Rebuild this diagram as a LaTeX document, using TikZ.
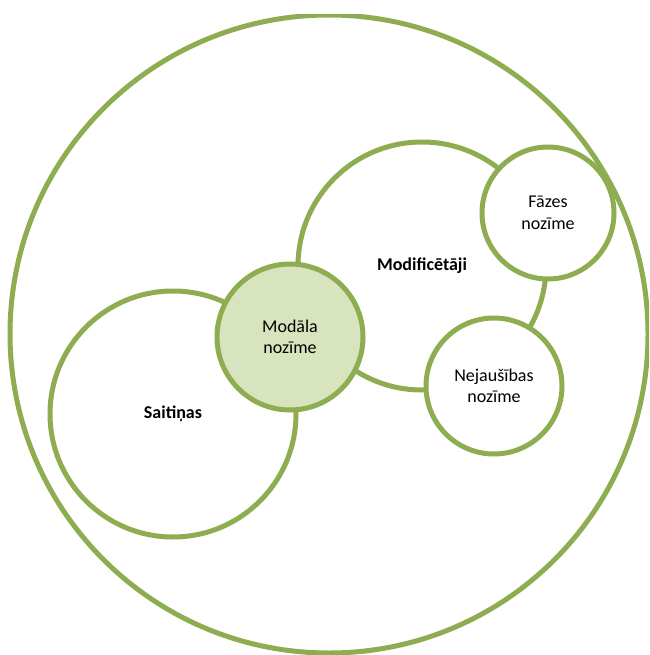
\documentclass[tikz,border=0pt]{standalone}
\usepackage{fontspec}
\setmainfont{Carlito}
\definecolor{olivegreen}{RGB}{142,172,80}
\definecolor{lightolive}{RGB}{215,228,189}

\begin{document}
\begin{tikzpicture}[x=1pt, y=-1pt, line width=5pt,
  ring/.style={circle, draw=olivegreen, fill=white, inner sep=0pt,
    align=center, font=\fontsize{18}{21.5}\selectfont},
  groupring/.style={ring, font=\fontsize{18}{21.5}\selectfont\bfseries}]
  \useasboundingbox (0,0) rectangle (649,655);
  % the outer ring is cut off at the top and right
  \begin{scope}
    \clip (0,15) rectangle (649,655);
    \node[ring, minimum size=638pt] (outer) at (329,334) {};
  \end{scope}
  \node[groupring, minimum size=246pt] (saitinas) at (173,414) {Saitiņas};
  \node[groupring, minimum size=248pt] (modif)    at (422,266) {Modificētāji};
  \node[ring, fill=lightolive, minimum size=146pt] (modala) at (290,337) {Modāla\\nozīme};
  \node[ring, minimum size=132pt] (fazes)      at (548,213) {Fāzes\\nozīme};
  \node[ring, minimum size=136pt] (nejausibas) at (494,386) {Nejaušības\\nozīme};
\end{tikzpicture}
\end{document}
